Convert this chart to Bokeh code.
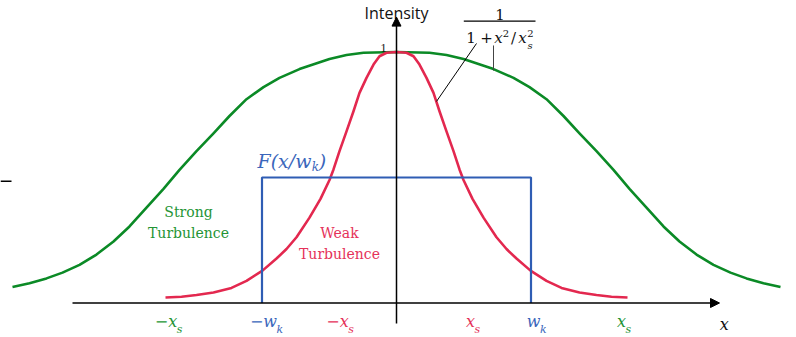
from bokeh.plotting import figure
from bokeh.models import Range1d, Arrow, NormalHead
from bokeh.embed import file_html
from bokeh.resources import INLINE
from bokeh.core.properties import value

# ---------------- data (x in arbitrary units, intensity normalised to 1) -------------
strong_x = [-3.84, -3.67, -3.50, -3.34, -3.17, -3.00, -2.83, -2.67, -2.50, -2.33, -2.17,
            -2.00, -1.83, -1.67, -1.50, -1.33, -1.17, -0.97, -0.67, -0.50, -0.33, 0.00,
            0.33, 0.50, 0.67, 0.97, 1.17, 1.33, 1.50, 1.67, 1.83, 2.00,
            2.17, 2.33, 2.50, 2.67, 2.83, 3.00, 3.17, 3.34, 3.50, 3.67, 3.84]
strong_y = [0.064, 0.079, 0.098, 0.121, 0.152, 0.193, 0.245, 0.305, 0.380, 0.455, 0.530,
            0.605, 0.676, 0.745, 0.812, 0.860, 0.897, 0.932, 0.972, 0.988, 0.997, 1.000,
            0.997, 0.988, 0.972, 0.932, 0.897, 0.860, 0.812, 0.745, 0.676, 0.605,
            0.530, 0.455, 0.380, 0.305, 0.245, 0.193, 0.152, 0.121, 0.098, 0.079, 0.064]

weak_x = [-2.31, -2.15, -2.00, -1.83, -1.65, -1.50, -1.34, -1.20, -1.10, -1.00, -0.87,
          -0.76, -0.67, -0.63, -0.57, -0.50, -0.43, -0.37, -0.30, -0.23, -0.17, -0.10, 0.00,
          0.10, 0.17, 0.23, 0.30, 0.37, 0.43, 0.50, 0.57, 0.63, 0.67, 0.76,
          0.87, 1.00, 1.10, 1.20, 1.34, 1.50, 1.65, 1.83, 2.00, 2.15, 2.31]
weak_y = [0.022, 0.025, 0.032, 0.042, 0.060, 0.088, 0.129, 0.177, 0.215, 0.262, 0.340,
          0.415, 0.490, 0.532, 0.605, 0.684, 0.764, 0.837, 0.897, 0.950, 0.983, 0.997, 1.000,
          0.997, 0.983, 0.950, 0.897, 0.837, 0.764, 0.684, 0.605, 0.532, 0.490, 0.415,
          0.340, 0.262, 0.215, 0.177, 0.129, 0.088, 0.060, 0.042, 0.032, 0.025, 0.022]

box_halfwidth = 1.345   # w_k
box_height = 0.5        # F(x/w_k)

tick_main = ["\u2212x", "\u2212w", "\u2212x", "x", "w", "x"]
tick_sub = ["s", "k", "s", "s", "k", "s"]
tick_pos = [-2.193, -1.195, -0.477, 0.785, 1.44, 2.295]
tick_kind = ["strong", "box", "weak", "weak", "box", "strong"]

GREEN = "#0b8a26"
RED = "#e3284f"
BLUE = "#2f5db4"
GREEN_T = "#249435"
RED_T = "#e5325a"
BLUE_T = "#3a66bb"
colors = {"strong": GREEN_T, "weak": RED_T, "box": BLUE_T}

SERIF = value("DejaVu Serif")
SANS = value("Open Sans")

p = figure(width=796, height=337, x_range=Range1d(-3.96, 4.00), y_range=Range1d(-0.1375, 1.2052),
           output_backend="svg", toolbar_location=None, x_axis_type=None, y_axis_type=None,
           min_border=0, outline_line_color=None, background_fill_color="white",
           border_fill_color="white")
p.grid.visible = False
p.styles = {"position": "absolute", "top": "0px", "left": "0px"}

# curves
p.line(strong_x, strong_y, line_color=GREEN, line_width=2.6, line_join="round")
p.line(weak_x, weak_y, line_color=RED, line_width=2.6, line_join="round")
p.line([-box_halfwidth, -box_halfwidth, box_halfwidth, box_halfwidth],
       [0, box_height, box_height, 0], line_color=BLUE, line_width=2.2)

# axes with arrows
p.add_layout(Arrow(end=NormalHead(size=9, fill_color="black", line_color="black", line_width=1),
                   x_start=-3.24, y_start=0, x_end=3.23, y_end=0, line_width=1.5, line_color="black"))
p.add_layout(Arrow(end=NormalHead(size=9, fill_color="black", line_color="black", line_width=1),
                   x_start=0, y_start=-0.082, x_end=0, y_end=1.139, line_width=1.5, line_color="black"))
# stray short mark at left edge
p.line([-3.96, -3.85], [0.485, 0.485], line_color="black", line_width=1.5)

# axis titles
p.text(x=[0], y=[1.155], text=["Intensity"], text_font=SANS, text_font_size="16px",
       text_align="center", text_baseline="alphabetic", text_color="#111111")
p.text(x=[3.233], y=[-0.0857], text=["x"], text_font=SERIF, text_font_style="italic",
       text_font_size="16px", text_align="left", text_baseline="alphabetic", text_color="#111111")
p.text(x=[-0.10], y=[1.014], text=["1"], text_font=value("Liberation Serif"), text_font_size="12px",
       text_align="right", text_baseline="alphabetic", text_color="#111111")

# tick labels
for m, s, xp, k in zip(tick_main, tick_sub, tick_pos, tick_kind):
    c = colors[k]
    p.text(x=[xp], y=[-0.0737], text=[m], text_font=SERIF, text_font_style="italic",
           text_font_size="16px", text_align="right", text_baseline="alphabetic", text_color=c)
    p.text(x=[xp - 0.005], y=[-0.1056], text=[s], text_font=SERIF, text_font_style="italic",
           text_font_size="11px", text_align="left", text_baseline="alphabetic", text_color=c)

# formula 1 / (1 + x^2/x_s^2)
p.text(x=[1.035], y=[1.151], text=["1"], text_font=SERIF, text_font_size="15px",
       text_align="center", text_baseline="alphabetic", text_color="#111111")
p.line([0.673, 1.39], [1.123, 1.123], line_color="black", line_width=1.4)
den = [("1", 0.745, 1.0566, "normal", "15px"), ("+", 0.90, 1.0566, "normal", "15px"),
       ("x", 1.02, 1.0566, "italic", "15px"), ("2", 1.095, 1.0737, "normal", "10px"),
       ("/", 1.17, 1.0566, "normal", "15px"), ("x", 1.26, 1.0566, "italic", "15px"),
       ("2", 1.34, 1.0737, "normal", "10px"), ("s", 1.335, 1.026, "italic", "10px")]
for t, xx, yy, st, fs in den:
    p.text(x=[xx], y=[yy], text=[t], text_font=SERIF, text_font_style=st, text_font_size=fs,
           text_align="center", text_baseline="alphabetic", text_color="#111111")
p.line([0.80, 0.40], [1.034, 0.803], line_color="black", line_width=1)
p.line([0.97, 0.97], [1.026, 0.926], line_color="#444444", line_width=1)

# F(x/w_k)
p.text(x=[-0.85], y=[0.564], text=["F(x/w"], text_font=SERIF, text_font_style="italic",
       text_font_size="19px", text_align="right", text_baseline="alphabetic", text_color=BLUE_T)
p.text(x=[-0.81], y=[0.54], text=["k"], text_font=SERIF, text_font_style="italic",
       text_font_size="12px", text_align="center", text_baseline="alphabetic", text_color=BLUE_T)
p.text(x=[-0.74], y=[0.564], text=[")"], text_font=SERIF, text_font_style="italic",
       text_font_size="19px", text_align="center", text_baseline="alphabetic", text_color=BLUE_T)

# region labels
p.text(x=[-2.08, -2.08], y=[0.362, 0.280], text=["Strong", "Turbulence"], text_font=SERIF,
       text_font_size="14px", text_align="center", text_baseline="alphabetic", text_color=GREEN_T)
p.text(x=[-0.57, -0.57], y=[0.280, 0.196], text=["Weak", "Turbulence"], text_font=SERIF,
       text_font_size="14px", text_align="center", text_baseline="alphabetic", text_color=RED_T)

open("out.html", "w").write(file_html(p, INLINE))
